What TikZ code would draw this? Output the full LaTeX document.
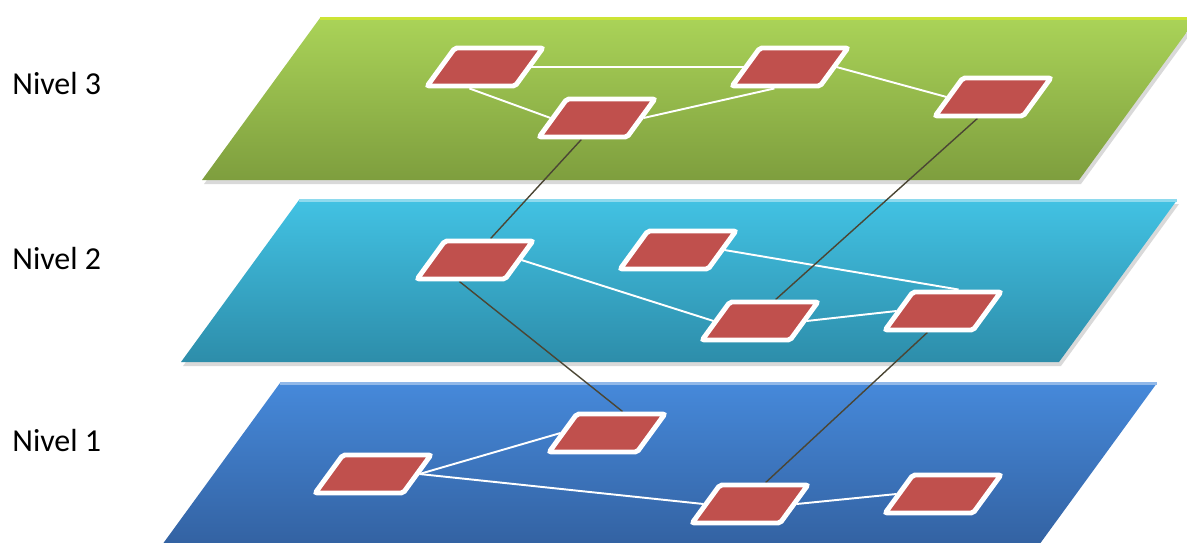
\documentclass[tikz,border=0pt]{standalone}
\usepackage{fontspec}
\setmainfont{Carlito}
\pgfdeclarelayer{fondo}
\pgfdeclarelayer{medio}
\pgfsetlayers{fondo,medio,main}
\definecolor{verdeA}{HTML}{AAD358}
\definecolor{verdeB}{HTML}{7E9E3E}
\definecolor{cianA}{HTML}{42C2E3}
\definecolor{cianB}{HTML}{2D8DAA}
\definecolor{azulA}{HTML}{4689DA}
\definecolor{azulB}{HTML}{3362A2}
\definecolor{rojo}{HTML}{C0504D}
\definecolor{oscuro}{HTML}{4B4634}
\tikzset{
  nodo/.style={rectangle, draw=white, fill=rojo, line width=2.8pt,
    minimum width=1.76cm, minimum height=0.76cm, inner sep=0pt,
    xslant=0.728, rounded corners=1.2pt},
  enlace/.style={white, line width=1.1pt},
  vinculo/.style={oscuro, line width=0.8pt},
  sombra/.style={black, opacity=0.15},
  nivel/.style={anchor=west, inner sep=0pt, font=\fontsize{18.2}{20}\selectfont}
}
\begin{document}
\begin{tikzpicture}[x=0.02cm, y=-0.02cm]
\useasboundingbox (0,0) rectangle (1187,542);
% ---------- planos ----------
\begin{pgfonlayer}{fondo}
\fill[sombra] (204,184) -- (322,22) -- (1199,22) -- (1081,184) -- cycle;
\shade[top color=verdeA, bottom color=verdeB] (202,180) -- (320,18) -- (1197,18) -- (1079,180) -- cycle;
\draw[verdeA!60!yellow, line width=1.2pt] (320,18.5) -- (1197,18.5);
\fill[sombra] (183,366) -- (301,204) -- (1179,204) -- (1061,366) -- cycle;
\shade[top color=cianA, bottom color=cianB] (181,362) -- (299,200) -- (1177,200) -- (1059,362) -- cycle;
\draw[cianA!60!white, line width=1.2pt] (299,200.5) -- (1177,200.5);
\shade[top color=azulA, bottom color=azulB] (162,545) -- (280,383) -- (1157,383) -- (1039,545) -- cycle;
\draw[azulA!60!white, line width=1.2pt] (280,383.5) -- (1157,383.5);
\end{pgfonlayer}
% niveles
\node[nivel] (t3) at (12,84) {Nivel 3};
\node[nivel] (t2) at (12,258) {Nivel 2};
\node[nivel] (t1) at (12,440) {Nivel 1};
% nodos de cada nivel
\node[nodo] (n31) at (485,67) {};
\node[nodo] (n32) at (597,118) {};
\node[nodo] (n33) at (790,67) {};
\node[nodo] (n34) at (993,97) {};
\node[nodo] (n21) at (475,260) {};
\node[nodo] (n22) at (678,250) {};
\node[nodo] (n23) at (760,321) {};
\node[nodo] (n24) at (943,311) {};
\node[nodo] (n11) at (373,474) {};
\node[nodo] (n12) at (607,433) {};
\node[nodo] (n13) at (750,504) {};
\node[nodo] (n14) at (943,494) {};
% enlaces
\begin{pgfonlayer}{medio}
\draw[enlace] (n31.east) -- (n33.west);
\draw[enlace] (n31.south) -- (n32.west);
\draw[enlace] (n32.east) -- (n33.south);
\draw[enlace] (n33.east) -- (n34.west);
\draw[enlace] (n21.east) -- (n23.west);
\draw[enlace] (n22.east) -- (n24.north);
\draw[enlace] (n23.east) -- (n24.west);
\draw[enlace] (n11.east) -- (n12.west);
\draw[enlace] (n11.east) -- (n13.west);
\draw[enlace] (n13.east) -- (n14.west);
% entre niveles
\draw[vinculo] (n32.south) -- (n21.north);
\draw[vinculo] (n34.south) -- (n23.north);
\draw[vinculo] (n21.south) -- (n12.north);
\draw[vinculo] (n24.south) -- (n13.north);
\end{pgfonlayer}
\end{tikzpicture}
\end{document}
